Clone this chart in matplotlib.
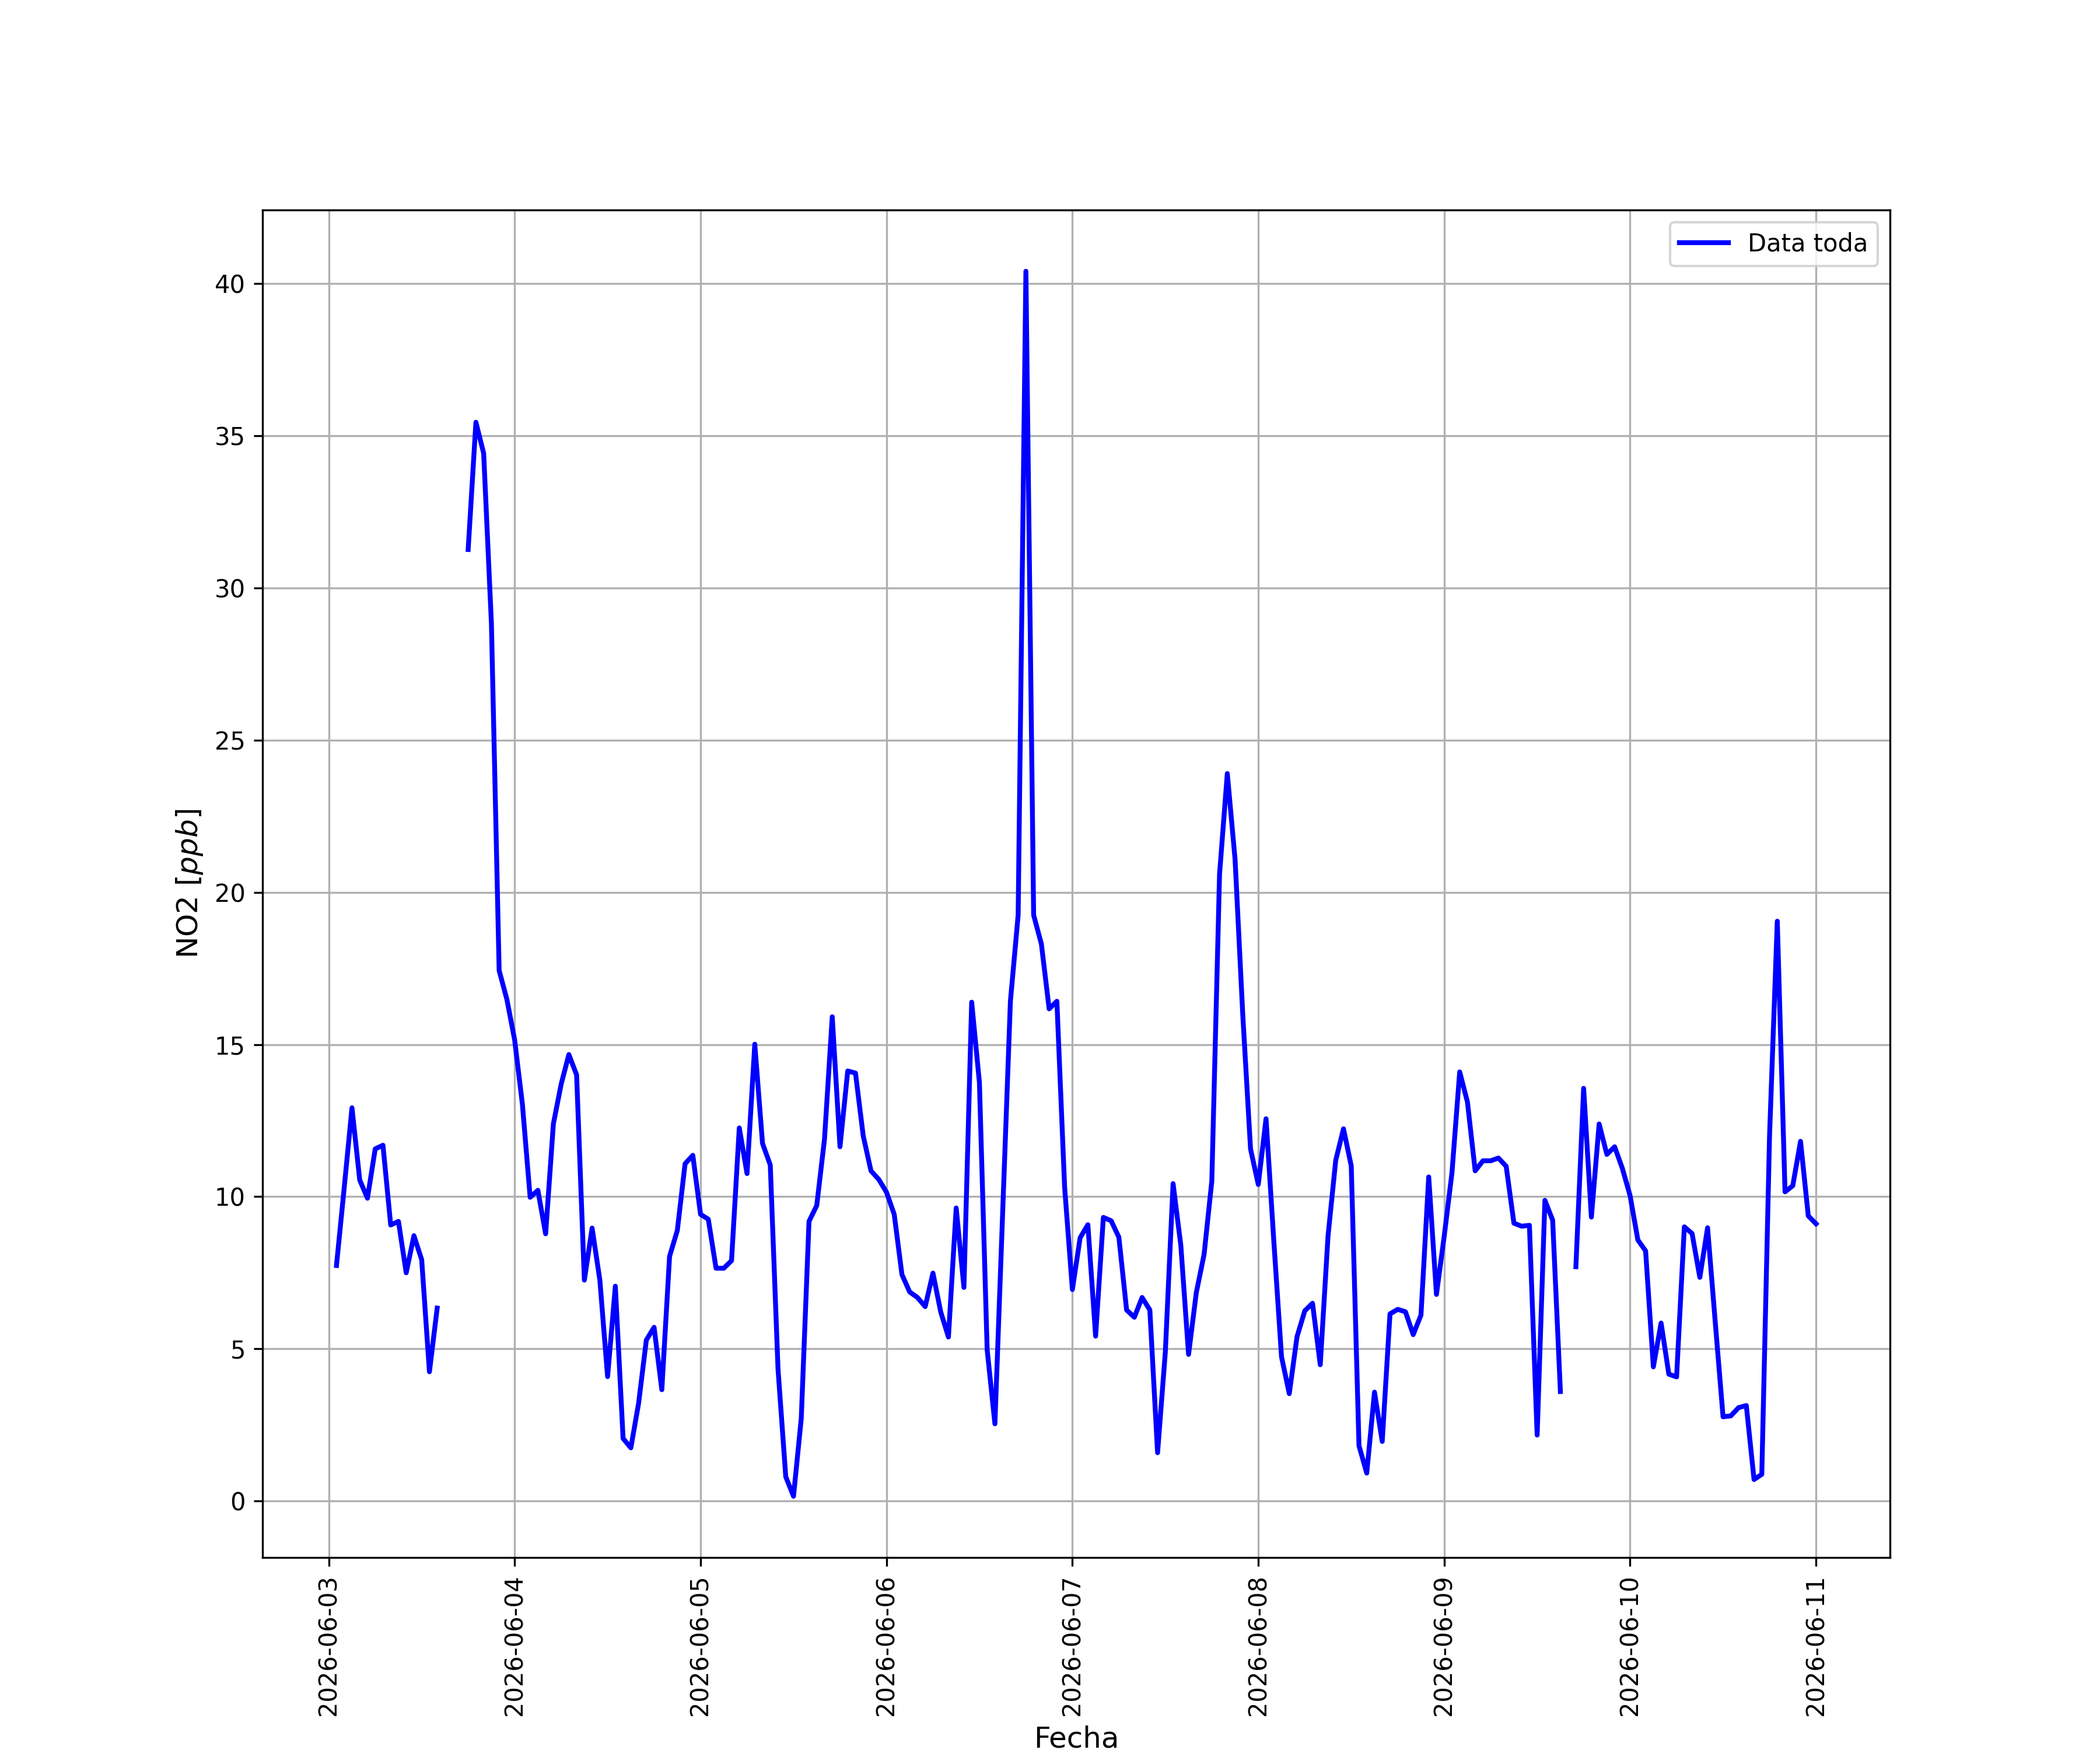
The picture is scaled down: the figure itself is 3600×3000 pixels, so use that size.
import numpy as np
import pandas as pd
import matplotlib
matplotlib.use('Agg')
import matplotlib.pyplot as plt
import matplotlib.dates as mdates

nan = np.nan

# Valores horarios de NO2 [ppb] (dia 03 empieza a las 01:00)
dia_03 = [7.74, 10.3, 12.92, 10.55, 9.95, 11.57, 11.69, 9.07, 9.19, 7.5, 8.72, 7.93,
          4.25, 6.34, nan, nan, nan, 31.26, 35.44, 34.42, 28.84, 17.43, 16.48]
dia_04 = [15.15, 13.04, 9.98, 10.21, 8.78, 12.39, 13.69, 14.67, 14.0, 7.26, 8.97, 7.26,
          4.09, 7.06, 2.06, 1.75, 3.21, 5.29, 5.71, 3.66, 8.04, 8.89, 11.08, 11.36]
dia_05 = [9.42, 9.26, 7.65, 7.65, 7.9, 12.26, 10.76, 15.01, 11.75, 11.04, 4.34, 0.8,
          0.16, 2.71, 9.19, 9.71, 11.89, 15.91, 11.64, 14.13, 14.06, 12.0, 10.85, 10.57]
dia_06 = [10.15, 9.42, 7.44, 6.87, 6.69, 6.39, 7.49, 6.22, 5.39, 9.63, 7.02, 16.39,
          13.75, 4.97, 2.54, 9.5, 16.42, 19.25, 40.4, 19.25, 18.3, 16.17, 16.42, 10.31]
dia_07 = [6.95, 8.65, 9.08, 5.42, 9.32, 9.21, 8.67, 6.28, 6.04, 6.69, 6.28, 1.59,
          4.9, 10.43, 8.4, 4.82, 6.85, 8.1, 10.51, 20.6, 23.9, 21.09, 15.96, 11.57]
dia_08 = [10.4, 12.56, 8.56, 4.74, 3.53, 5.4, 6.25, 6.5, 4.48, 8.7, 11.2, 12.23,
          11.01, 1.82, 0.92, 3.58, 1.96, 6.15, 6.3, 6.22, 5.47, 6.11, 10.65, 6.79]
dia_09 = [8.7, 10.78, 14.1, 13.11, 10.85, 11.18, 11.18, 11.27, 11.0, 9.13, 9.03, 9.06,
          2.17, 9.88, 9.23, 3.6, nan, 7.7, 13.56, 9.33, 12.39, 11.39, 11.64, 10.93]
dia_10 = [10.03, 8.58, 8.22, 4.41, 5.85, 4.17, 4.08, 9.01, 8.79, 7.35, 8.98, 5.85,
          2.77, 2.8, 3.07, 3.14, 0.71, 0.88, 12.0, 19.05, 10.16, 10.36, 11.82, 9.37]
dia_11 = [9.11]

no2 = np.array(dia_03 + dia_04 + dia_05 + dia_06 + dia_07 + dia_08 + dia_09 + dia_10 + dia_11)
fechas = pd.date_range('2026-06-03 01:00', periods=len(no2), freq='h')

fig, ax = plt.subplots(figsize=(12, 10))
ax.plot(fechas, no2, color='blue', linewidth=2, label='Data toda')

ax.xaxis.set_major_locator(mdates.DayLocator())
ax.xaxis.set_major_formatter(mdates.DateFormatter('%Y-%m-%d'))
plt.xticks(rotation=90)

ax.set_xlabel('Fecha', fontsize=12)
ax.set_ylabel('NO2 [$ppb$]', fontsize=12)
ax.grid()
ax.legend(loc='upper right')

fig.savefig('out.png', dpi=300)
